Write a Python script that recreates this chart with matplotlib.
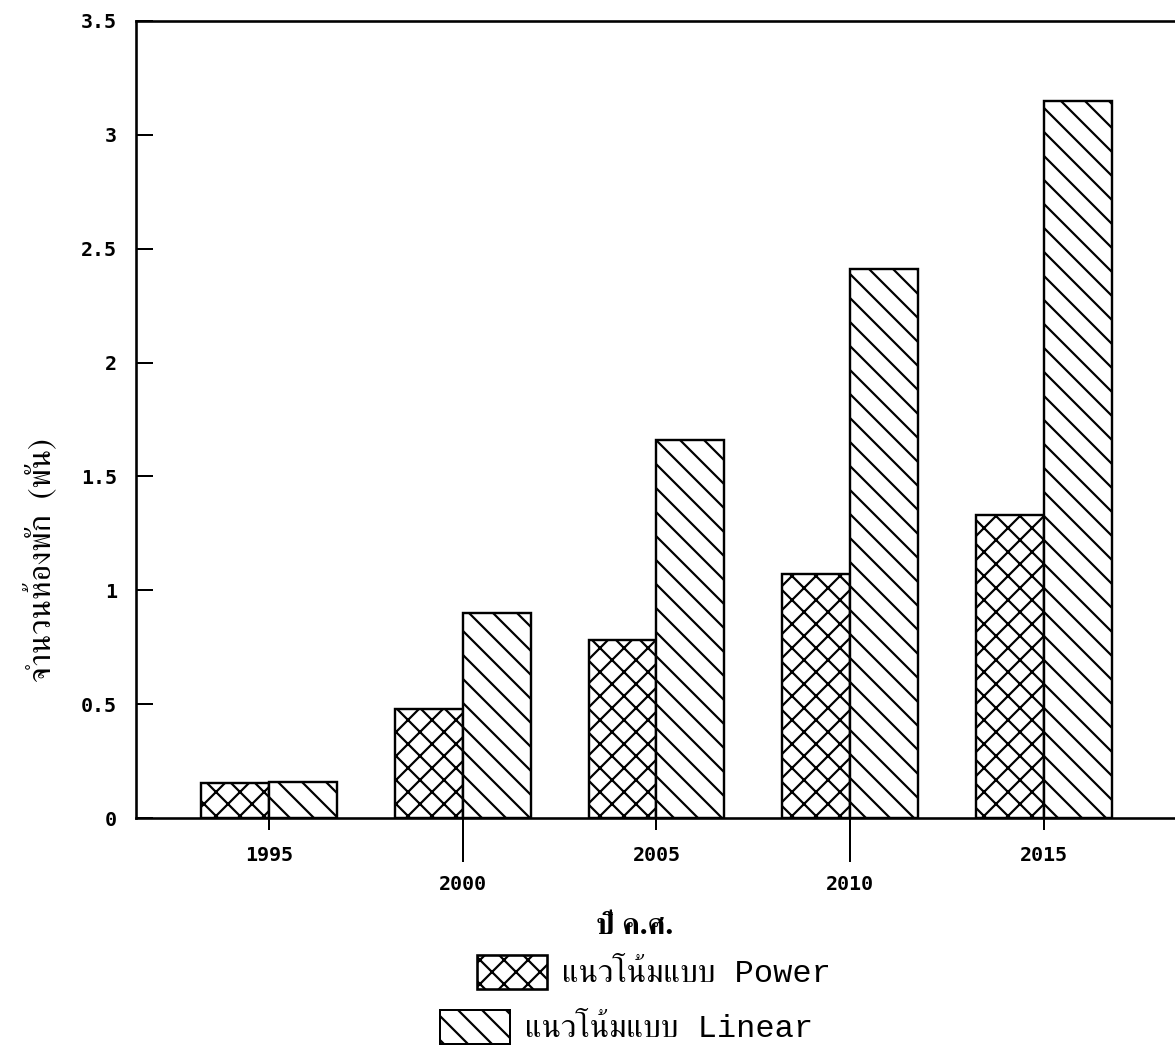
import matplotlib
matplotlib.use('Agg')
import matplotlib.pyplot as plt
from matplotlib import font_manager
from matplotlib.ft2font import FT2Font
from matplotlib.patches import Patch
import numpy as np

# data (thousand rooms)
years = ['1995', '2000', '2005', '2010', '2015']
power = [0.155, 0.48, 0.78, 1.07, 1.33]
linear = [0.16, 0.90, 1.66, 2.41, 3.15]
yticks = [0, 0.5, 1, 1.5, 2, 2.5, 3, 3.5]
ytick_labels = ['0', '0.5', '1', '1.5', '2', '2.5', '3', '3.5']

ylabel = 'จำนวนห้องพัก  (พัน)'
xlabel = 'ปี ค.ศ.'
legend_power = 'แนวโน้มแบบ Power'
legend_linear = 'แนวโน้มแบบ Linear'


def find_thai_fonts():
    # any installed family that has Thai glyphs, serif ones first
    names = []
    for f in font_manager.fontManager.ttflist:
        try:
            cmap = FT2Font(f.fname).get_charmap()
        except Exception:
            continue
        if 0x0E19 in cmap and 0x0E08 in cmap and f.name not in names:
            names.append(f.name)
    names.sort(key=lambda n: 0 if 'Serif' in n else 1)
    return names


thai = find_thai_fonts()
legend_family = ['Liberation Mono'] + thai + ['DejaVu Sans Mono']
label_family = thai + ['DejaVu Sans']

plt.rcParams['hatch.linewidth'] = 1.1

fig = plt.figure(figsize=(1175 / 144, 1053 / 144), dpi=144)
ax = fig.add_axes([136 / 1175, 1 - 818 / 1053, 1 - 136 / 1175, (818 - 21) / 1053])

x = np.arange(len(years))
w = 0.35
ax.bar(x - w / 2, power, w, color='white', edgecolor='black', linewidth=1.2, hatch='xx')
ax.bar(x + w / 2, linear, w, color='white', edgecolor='black', linewidth=1.2, hatch='\\\\')

ax.set_xlim(-0.687, -0.687 + 1039 / 193.7)
ax.set_ylim(0, 3.5)
ax.spines['right'].set_visible(False)
for s in ['left', 'top', 'bottom']:
    ax.spines[s].set_linewidth(1.3)

tick_font = dict(family='DejaVu Sans Mono', weight='bold', fontsize=10)
ax.set_yticks(yticks)
ax.set_yticklabels(ytick_labels, **tick_font)
ax.tick_params(axis='y', direction='in', length=8.5, width=1.0, pad=9.5)

# staggered year labels: short ticks for 1995/2005/2015, long ones for 2000/2010
ax.set_xticks(x[::2])
ax.set_xticklabels(years[::2], **tick_font)
ax.set_xticks(x[1::2], minor=True)
ax.set_xticklabels(years[1::2], minor=True, **tick_font)
ax.tick_params(axis='x', which='major', direction='out', length=6, width=1.0, pad=8)
ax.tick_params(axis='x', which='minor', direction='out', length=22, width=1.0, pad=6.5)

fig.text(40 / 1175, 1 - 560 / 1053, ylabel, rotation=90, ha='center', va='center',
         family=label_family, fontsize=16)
fig.text(635 / 1175, 1 - 927 / 1053, xlabel, ha='center', va='center',
         family=label_family, fontsize=15, weight='bold')

h1 = Patch(facecolor='white', edgecolor='black', hatch='xx', linewidth=1.3)
h2 = Patch(facecolor='white', edgecolor='black', hatch='\\\\', linewidth=1.0)
leg_kw = dict(frameon=False, borderpad=0, borderaxespad=0, handlelength=2.2,
              handleheight=1.25, handletextpad=0.45, loc='center left',
              prop={'family': legend_family, 'size': 16})
fig.legend([h1], [legend_power], bbox_to_anchor=(477 / 1175, 1 - 972 / 1053), **leg_kw)
fig.legend([h2], [legend_linear], bbox_to_anchor=(440 / 1175, 1 - 1027 / 1053), **leg_kw)

fig.savefig('out.png', dpi=144)
